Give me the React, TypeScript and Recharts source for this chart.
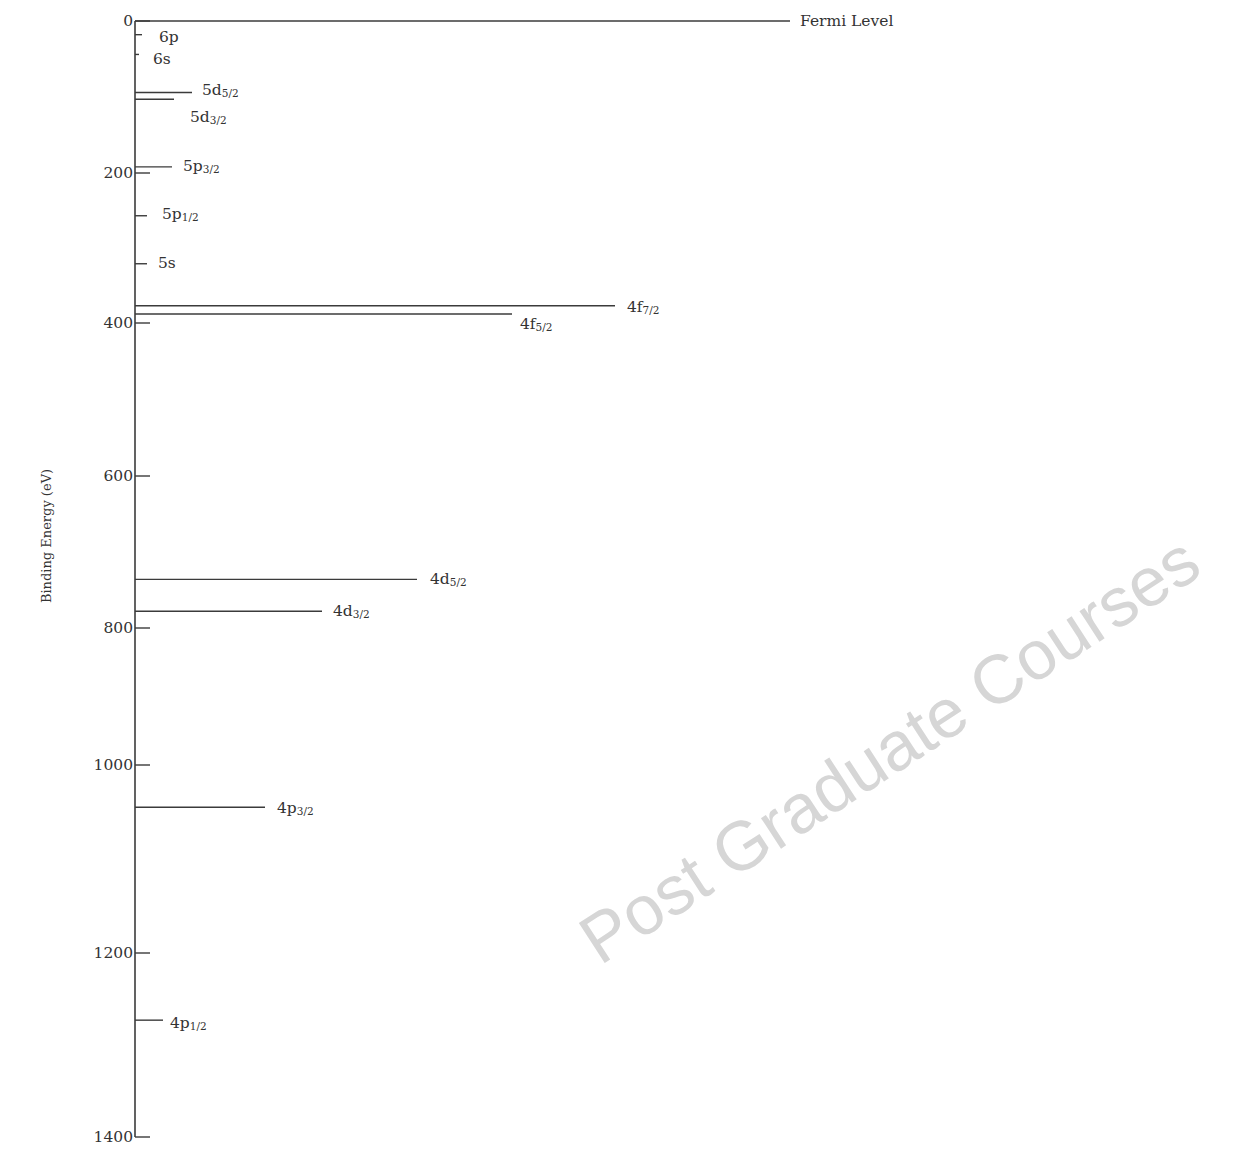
import { ComposedChart, XAxis, YAxis, ReferenceLine, Scatter } from "recharts";

// Uranium core levels, binding energy in eV (0 = Fermi level)
const levelOrbitals = ["Fermi Level", "6p", "6s", "5d", "5d", "5p", "5p", "5s", "4f", "4f", "4d", "4d", "4p", "4p"];
const levelSpin = ["", "", "", "5/2", "3/2", "3/2", "1/2", "", "7/2", "5/2", "5/2", "3/2", "3/2", "1/2"];
const bindingEnergies = [0, 18, 44, 94, 103, 192, 257, 321, 377, 388, 736, 778, 1045, 1273];
// length of each level bar (arbitrary units)
const lineLengths = [655, 7, 4, 57, 39, 37, 12, 12, 480, 377, 282, 187, 130, 28];

const tickValues = [0, 200, 400, 600, 800, 1000, 1200, 1400];
// the printed axis is not uniform: spacing between successive ticks
const tickGaps = [152, 150, 153, 152, 137, 188, 184];

const tickPos: number[] = [0];
tickGaps.forEach((g, i) => tickPos.push(tickPos[i] + g));

function axisPos(e: number) {
  for (let i = 0; i < tickGaps.length; i++) {
    if (e <= tickValues[i + 1]) {
      return tickPos[i] + ((e - tickValues[i]) / (tickValues[i + 1] - tickValues[i])) * tickGaps[i];
    }
  }
  return tickPos[tickPos.length - 1];
}

const levelEnds = bindingEnergies.map((e, i) => ({ x: lineLengths[i], y: axisPos(e) }));

// label nudges (dx, dy) where the printed labels sit off the line end
const labelNudge: Record<number, [number, number]> = {
  0: [10, 0],
  1: [17, 2],
  2: [14, 5],
  3: [10, -2],
  4: [16, 18],
  5: [11, -1],
  6: [15, -2],
  7: [11, -1],
  8: [12, 1],
  9: [8, 10],
  10: [13, 0],
  11: [11, 0],
  12: [12, 1],
  13: [7, 3],
};

const ink = "#3b3b3b";
const font = "'DejaVu Serif', 'Liberation Serif', serif";

function YTick(props: any) {
  const { x, y, index } = props;
  return (
    <g>
      <line x1={x} x2={x + 15} y1={y} y2={y} stroke={ink} strokeWidth={1.4} />
      <text x={x - 2} y={y} textAnchor="end" dominantBaseline="central" fontFamily={font} fontSize={15.5} fill="#333">
        {tickValues[index]}
      </text>
    </g>
  );
}

function makeLabel(i: number) {
  return (props: any) => {
    const vb = props.viewBox;
    const [dx, dy] = labelNudge[i];
    const x = vb.x + vb.width + dx;
    const y = vb.y + dy;
    return (
      <text x={x} y={y} dominantBaseline="central" fontFamily={font} fontSize={15.5} fill="#333">
        <tspan>{levelOrbitals[i]}</tspan>
        {levelSpin[i] && (
          <tspan fontSize={10.5} dy={3}>
            {levelSpin[i]}
          </tspan>
        )}
      </text>
    );
  };
}

export default function App() {
  return (
    <div style={{ position: "relative", width: 1240, height: 1150 }}>
      <ComposedChart width={1240} height={1150} data={levelEnds} margin={{ top: 13, right: 13, bottom: 21, left: 0 }}>
        <XAxis type="number" dataKey="x" domain={[0, 1100]} hide />
        <YAxis
          type="number"
          dataKey="y"
          domain={[0, tickPos[tickPos.length - 1]]}
          reversed
          ticks={tickPos}
          interval={0}
          width={127}
          tickSize={0}
          tickMargin={0}
          tickLine={false}
          tick={(p: any) => <YTick {...p} />}
          axisLine={{ stroke: ink, strokeWidth: 1.6 }}
          label={{
            content: (p: any) => (
              <text
                x={p.viewBox.x + 38}
                y={p.viewBox.y + p.viewBox.height / 2 - 43}
                transform={`rotate(-90 ${p.viewBox.x + 38} ${p.viewBox.y + p.viewBox.height / 2 - 43})`}
                textAnchor="middle"
                dominantBaseline="central"
                fontFamily={font}
                fontSize={13}
                fill="#333"
              >
                Binding Energy (eV)
              </text>
            ),
          }}
        />
        <Scatter data={levelEnds} dataKey="y" fill="none" shape={() => <g />} isAnimationActive={false} />
        {bindingEnergies.map((e, i) => (
          <ReferenceLine
            key={i}
            segment={[
              { x: 0, y: axisPos(e) },
              { x: lineLengths[i], y: axisPos(e) },
            ]}
            stroke={ink}
            strokeWidth={1.4}
            ifOverflow="visible"
            label={makeLabel(i)}
          />
        ))}
      </ComposedChart>
      <svg
        width={1259}
        height={1156}
        style={{ position: "absolute", left: -8, top: -8, pointerEvents: "none" }}
      >
        <text
          x={600}
          y={966}
          transform="rotate(-33 600 966)"
          fontFamily="'Liberation Sans', Arial, sans-serif"
          fontSize={69}
          fill="#d6d6d6"
        >
          Post Graduate Courses
        </text>
      </svg>
    </div>
  );
}
